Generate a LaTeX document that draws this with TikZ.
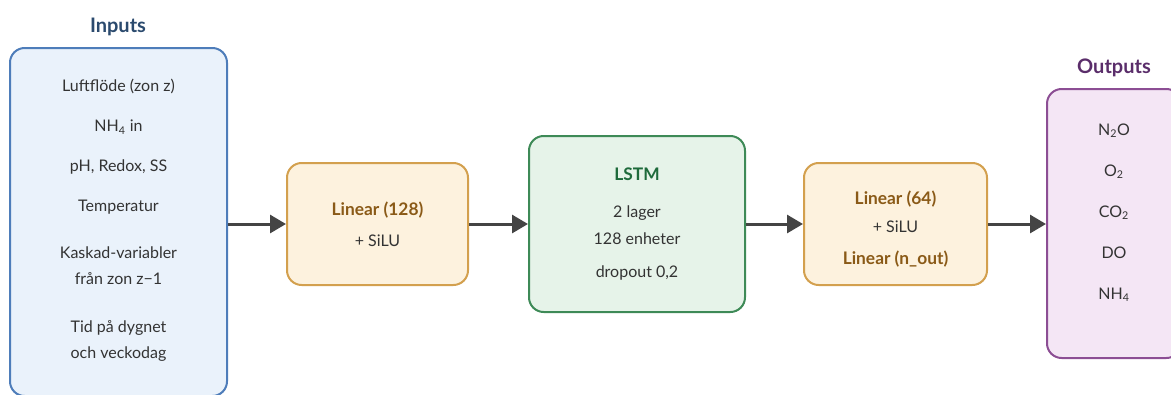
\documentclass[tikz,border=0pt]{standalone}
\usepackage{fontspec}
\setmainfont{Lato}
\usetikzlibrary{positioning,arrows.meta}
\definecolor{inline}{HTML}{4E7DBA}
\definecolor{infill}{HTML}{EAF2FB}
\definecolor{intext}{HTML}{2B4A6E}
\definecolor{linline}{HTML}{D3A04E}
\definecolor{linfill}{HTML}{FDF2DE}
\definecolor{lintext}{HTML}{8A5A17}
\definecolor{lstmline}{HTML}{3E8A57}
\definecolor{lstmfill}{HTML}{E6F3E9}
\definecolor{lstmtext}{HTML}{1E6A3B}
\definecolor{outline}{HTML}{8C4E94}
\definecolor{outfill}{HTML}{F4E6F5}
\definecolor{outtext}{HTML}{5A2D6A}
\definecolor{bodytext}{HTML}{333333}
\definecolor{arrowgray}{HTML}{444444}
\tikzset{
  flowarrow/.style={-{Triangle[length=12pt, width=13.5pt]}, line width=2.25pt, arrowgray},
  blockbox/.style={draw, rounded corners=11pt, line width=1.5pt, align=center, text=bodytext, inner sep=0pt},
  inputbox/.style={blockbox, draw=inline, fill=infill, minimum width=162.75pt, minimum height=261pt},
  linbox/.style={blockbox, draw=linline, fill=linfill, minimum height=91.5pt},
  lstmbox/.style={blockbox, draw=lstmline, fill=lstmfill, minimum width=162pt, minimum height=132pt},
  outputbox/.style={blockbox, draw=outline, fill=outfill, minimum width=100.5pt, minimum height=201.75pt},
  titlelabel/.style={font=\fontsize{15}{18}\selectfont\bfseries}
}
\newcommand{\blocktitle}[2]{\textcolor{#1}{\fontsize{13}{19.5}\selectfont\bfseries #2}}

\begin{document}
\begin{tikzpicture}[x=0.75pt, y=-0.75pt, every node/.style={font=\fontsize{12}{19.5}\selectfont}]
  \useasboundingbox (0,0) rectangle (1171,394);
  \node[titlelabel, text=intext] (intitle) at (118,27) {Inputs};
  \node[inputbox] (inputs) at (118.5,222) {Luftflöde (zon z)\\[10.5pt]
    NH\textsubscript{4} in\\[10.5pt]
    pH, Redox, SS\\[10.5pt]
    Temperatur\\[15.5pt]
    Kaskad-variabler\\ från zon z−1\\[16.5pt]
    Tid på dygnet\\ och veckodag\\[-15pt]};
  \node[linbox, minimum width=135.75pt] (lin1) at (377.5,224)
    {\blocktitle{lintext}{Linear (128)}\\[3.75pt] + SiLU};
  \node[lstmbox] (lstm) at (637,224)
    {\blocktitle{lstmtext}{LSTM}\\[8.25pt]
     2 lager\\[0.5pt] 128 enheter\\[5.25pt] dropout 0,2};
  \node[linbox, minimum width=137.25pt] (lin2) at (895.5,224)
    {\mbox{}\\[-1.5pt]\blocktitle{lintext}{Linear (64)}\\[1pt] + SiLU\\[4.5pt]
     \blocktitle{lintext}{Linear (n\_out)}};
  \node[titlelabel, text=outtext] (outtitle) at (1114,68) {Outputs};
  \node[outputbox] (outputs) at (1114,223.5) {N\textsubscript{2}O\\[11.25pt]
    O\textsubscript{2}\\[11.25pt]
    CO\textsubscript{2}\\[11.25pt]
    DO\\[11.25pt]
    NH\textsubscript{4}\\[-1.5pt]};

  \draw[flowarrow] (inputs.east |- lin1.west) -- (lin1.west);
  \draw[flowarrow] (lin1) -- (lstm);
  \draw[flowarrow] (lstm) -- (lin2);
  \draw[flowarrow] (lin2.east) -- (outputs.west |- lin2.east);
\end{tikzpicture}
\end{document}
